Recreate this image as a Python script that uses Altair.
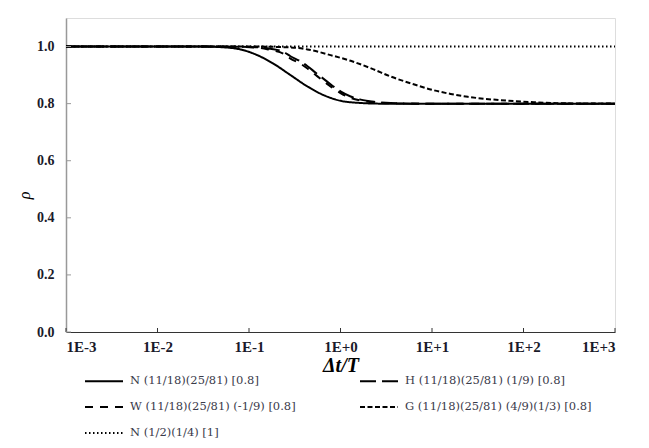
import json
import altair as alt
import pandas as pd

# ---- data ----
series_labels = [
    "N (11/18)(25/81) [0.8]",
    "H (11/18)(25/81) (1/9) [0.8]",
    "W (11/18)(25/81) (-1/9) [0.8]",
    "G (11/18)(25/81) (4/9)(1/3) [0.8]",
    "N (1/2)(1/4) [1]",
]
series_dash = [[1, 0], [16, 6], [8, 7], [5, 2.5], [1.5, 2.5]]
# legend fills column by column (3 rows): N, W, N2 | H, G
legend_order = [0, 2, 4, 1, 3]

n_x = [0.001, 0.01, 0.0293, 0.0485, 0.0803, 0.123, 0.185, 0.284, 0.436, 0.652, 1.0, 1.53, 2.74, 10, 100, 1000]
n_y = [1.0, 1.0, 1.0, 0.998, 0.99, 0.97, 0.94, 0.90, 0.86, 0.83, 0.81, 0.803, 0.80, 0.80, 0.80, 0.80]

h_x = [0.001, 0.01, 0.05, 0.133, 0.171, 0.238, 0.284, 0.365, 0.436, 0.532, 0.703, 1.0, 1.29, 1.66, 2.41, 3.53, 7.5, 10, 100, 1000]
h_y = [1.0, 1.0, 1.0, 0.997, 0.992, 0.981, 0.966, 0.948, 0.931, 0.909, 0.879, 0.843, 0.825, 0.814, 0.806, 0.802, 0.80, 0.80, 0.80, 0.80]

w_x = [0.001, 0.01, 0.05, 0.133, 0.171, 0.238, 0.284, 0.365, 0.436, 0.532, 0.703, 1.0, 1.29, 1.66, 2.41, 3.53, 7.5, 10, 100, 1000]
w_y = [1.0, 1.0, 1.0, 0.995, 0.988, 0.975, 0.958, 0.940, 0.923, 0.901, 0.871, 0.837, 0.820, 0.811, 0.804, 0.801, 0.80, 0.80, 0.80, 0.80]

g_x = [0.001, 0.01, 0.1, 0.284, 0.436, 0.778, 1.29, 2.30, 3.53, 6.30, 10.4, 16.0, 24.6, 56.5, 130, 306, 1000]
g_y = [1.0, 1.0, 1.0, 0.997, 0.99, 0.97, 0.95, 0.92, 0.895, 0.868, 0.847, 0.834, 0.824, 0.812, 0.805, 0.801, 0.80]

d_x = [0.001, 0.01, 0.1, 1, 10, 100, 1000]
d_y = [1.0, 1.0, 1.0, 1.0, 1.0, 1.0, 1.0]

x_tick_values = [0.001, 0.01, 0.1, 1, 10, 100, 1000]
x_tick_labels = ["1E-3", "1E-2", "1E-1", "1E+0", "1E+1", "1E+2", "1E+3"]
y_tick_values = [0.0, 0.2, 0.4, 0.6, 0.8, 1.0]

# ---- build table ----
rows = []
for lab, xs, ys in zip(series_labels, [n_x, h_x, w_x, g_x, d_x], [n_y, h_y, w_y, g_y, d_y]):
    for i, (xv, yv) in enumerate(zip(xs, ys)):
        rows.append({"series": lab, "x": xv, "y": yv, "i": i})
df = pd.DataFrame(rows)

dom = [series_labels[k] for k in legend_order]
rng = [series_dash[k] for k in legend_order]

W, H = 549, 314
label_expr = f"{json.dumps(x_tick_labels)}[indexof({json.dumps(x_tick_values)}, datum.value)]"

xscale = alt.Scale(type="log", domain=[0.001, 1000], nice=False)
yscale = alt.Scale(domain=[0, 1.1], nice=False)

lines = alt.Chart(df).mark_line(color="#000000", strokeWidth=2, interpolate="monotone").encode(
    x=alt.X("x:Q", scale=xscale,
            axis=alt.Axis(values=x_tick_values, labelExpr=label_expr, title="Δt/T",
                          grid=False, tickSize=0, domainColor="#333333", domainWidth=1,
                          labelFont="Liberation Serif", labelFontWeight="bold", labelFontSize=15,
                          labelColor="#1a1a2a", labelPadding=7,
                          titleFont="Liberation Serif", titleFontWeight="bold", titleFontStyle="italic",
                          titleFontSize=20, titleColor="#000000", titlePadding=1)),
    y=alt.Y("y:Q", scale=yscale,
            axis=alt.Axis(values=y_tick_values, format=".1f", title="ρ", grid=False, tickSize=0,
                          domainColor="#999999", domainWidth=1.5,
                          labelFont="Liberation Serif", labelFontWeight="bold", labelFontSize=14,
                          labelColor="#1a1a2a", labelPadding=12,
                          titleFont="Liberation Serif", titleFontStyle="italic", titleFontWeight="normal",
                          titleFontSize=16, titleColor="#000000",
                          titleX=-42, titleY=177, titleAngle=-90, titleBaseline="middle", titleAlign="center")),
    strokeDash=alt.StrokeDash("series:N", scale=alt.Scale(domain=dom, range=rng),
                              sort=dom,
                              legend=alt.Legend(orient="none", legendX=18, legendY=343, columns=2,
                                                columnPadding=60, rowPadding=-19, title=None,
                                                symbolType="stroke", symbolSize=1444,
                                                symbolStrokeWidth=2, symbolStrokeColor="#000000",
                                                labelFont="DejaVu Serif", labelFontSize=11.5,
                                                labelColor="#3a3a4a", labelOffset=6, labelLimit=400)),
    order="i:Q",
)

xt = pd.DataFrame({"x": x_tick_values})
xticks = alt.Chart(xt).mark_rule(color="#333333", strokeWidth=1).encode(
    x=alt.X("x:Q", scale=xscale), y=alt.value(H), y2=alt.value(H - 4))
yt = pd.DataFrame({"y": y_tick_values})
yticks = alt.Chart(yt).mark_rule(color="#999999", strokeWidth=1).encode(
    y=alt.Y("y:Q", scale=yscale), x=alt.value(0), x2=alt.value(5))

chart = alt.layer(lines, xticks, yticks).properties(
    width=W, height=H,
    autosize=alt.AutoSizeParams(type="none"),
    padding={"left": 58, "top": 10, "right": 20, "bottom": 112},
).configure_view(stroke=None).configure(background="white")

chart.save("out.html", embed_options={"renderer": "svg", "actions": False})
